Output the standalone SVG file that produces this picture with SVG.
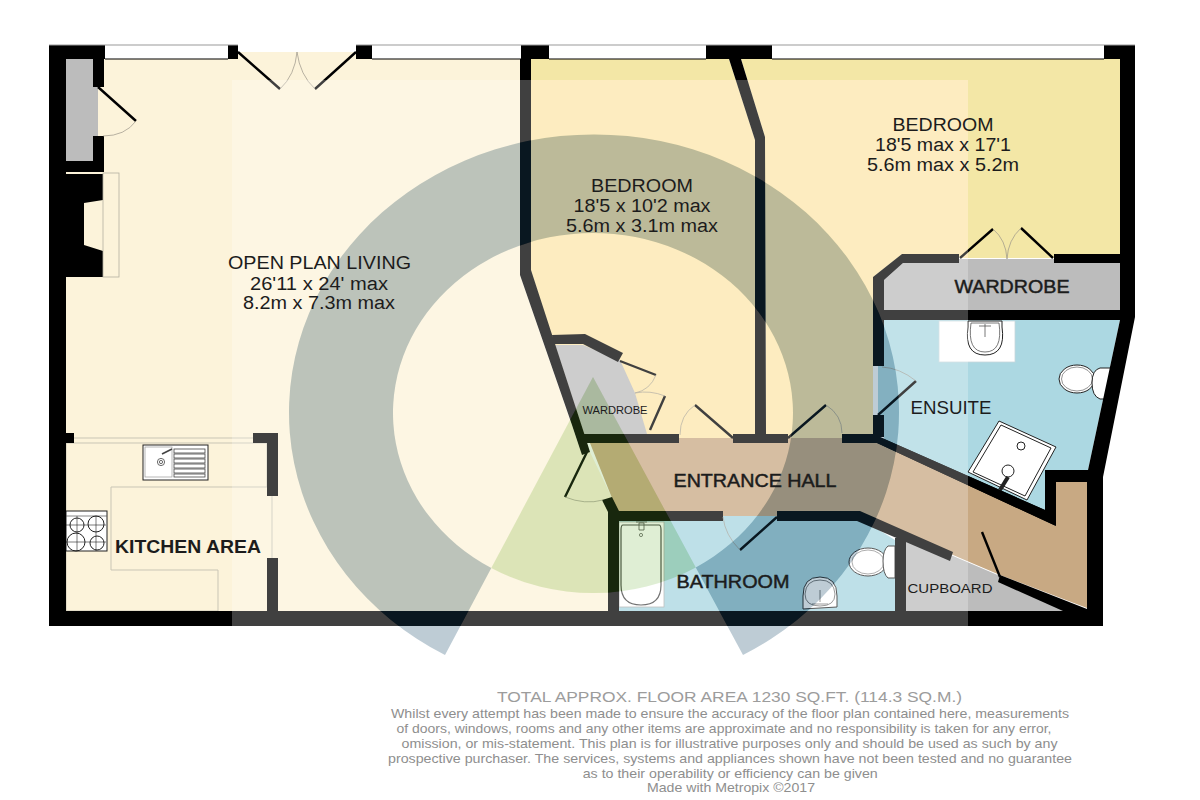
<svg xmlns="http://www.w3.org/2000/svg" width="1200" height="800" viewBox="0 0 1200 800">
<style>
text{font-family:"Liberation Sans",Arial,sans-serif;fill:#1c1c1c;text-anchor:middle;font-size:17.6px}
.w{fill:#000}
.leaf{stroke:#000;stroke-width:2.4;fill:none}
.arc{stroke:#9a9488;stroke-width:.7;fill:none}
.thin{stroke:#c9c5b5;stroke-width:1;fill:none}
.fx{stroke:#222;stroke-width:1;fill:#fff}
.b{stroke:#1c1c1c;stroke-width:.45}
text.foot{fill:#8e8e8e;font-size:13.4px;text-anchor:start}
</style>
<defs>
<clipPath id="sq"><rect x="232" y="80" width="736" height="547"/></clipPath>
</defs>
<rect width="1200" height="800" fill="#fff"/>
<g id="floors">
<polygon id="floor-living" fill="#fcf3da" points="66,59 238,59 238,52 356,52 356,59 520,59 520,275 578,443 590,452 612,498 617,511 608,511 608,611 66,611"/>
<polygon id="floor-bed1" fill="#f3e7a6" points="531,59 729,59 755,140 755,438 584,438 531,270"/>
<polygon id="floor-bed2" fill="#f3e7a6" points="741,59 1120,59 1120,258 960,258 959,254 902,254 873,277 873,438 766,438 765,137"/>
<g clip-path="url(#sq)" fill="#fce6ab">
<polygon points="531,59 729,59 755,140 755,438 584,438 531,270"/>
<polygon points="741,59 1120,59 1120,258 960,258 959,254 902,254 873,277 873,438 766,438 765,137"/>
</g>
<polygon id="floor-ensuite" fill="#acd8e2" points="884,320 1120,320 1088,470 1045,470 1045,512 884,443 884,415 878,415 878,366 884,366"/>
<polygon id="floor-bath" fill="#a9d6e0" points="619,516 857,516 895,540 895,611 619,611"/>
<polygon id="floor-hall" fill="#c8a983" points="590,443 600,438 877,438 1056,526 1056,482 1087,482 1087,608 1000,575 953,555 860,516 617,516 612,498"/>
<polygon id="floor-cupboard" fill="#bcbcbc" points="906,541 953,556 1000,576 1070,611 906,611"/>
<polygon id="floor-ward1" fill="#bcbcbc" points="555,345 583,345 620,360 635,393 647,434 584,434"/>
<polygon id="floor-ward2" fill="#bcbcbc" points="884,280 903,263 959,263 959,259 1054,259 1054,263 1120,263 1120,310 884,310"/>
<rect x="66" y="59" width="27" height="102" fill="#bcbcbc"/>
<rect x="93" y="87" width="5" height="49" fill="#bcbcbc"/>
</g>
<g id="kitchen">
<polygon fill="#fff" class="thin" points="66,443 267,443 267,487 111,487 111,570 218,570 218,611 66,611"/>
<line class="thin" x1="74" y1="438" x2="253" y2="438"/>
<line class="thin" x1="272" y1="496" x2="272" y2="558"/>
<rect class="fx" x="143" y="445" width="65" height="35" stroke-width="1.4"/>
<rect x="145" y="447" width="27" height="30" fill="none" stroke="#999" stroke-width=".7"/>
<g fill="none" stroke="#444" stroke-width=".8">
<rect x="174" y="449" width="31" height="4"/><rect x="174" y="454" width="31" height="4"/><rect x="174" y="459" width="31" height="4"/><rect x="174" y="464" width="31" height="4"/><rect x="174" y="469" width="31" height="4"/><rect x="174" y="474" width="31" height="3"/>
<circle cx="161" cy="462" r="3.6"/><circle cx="161" cy="462" r="1.6"/>
<path d="M162,454 L172,449" stroke-width="1.8"/>
</g>
<rect class="fx" x="66" y="511" width="41" height="40" stroke="#000" stroke-width="1.2"/>
<line x1="66" y1="516" x2="107" y2="516" stroke="#555" stroke-width=".7"/>
<g fill="none" stroke="#222" stroke-width="1">
<circle cx="77" cy="525" r="7"/><circle cx="96" cy="524" r="8"/><circle cx="76" cy="542" r="9"/><circle cx="97" cy="543" r="7"/>
<path d="M66,525H106M66,542H106M77,516V551M96,516V551" stroke-width=".6"/>
</g>
</g>
<g id="fixtures">
<rect x="939" y="321" width="76" height="41" fill="#fff" stroke="#c8d8dc" stroke-width=".8"/>
<path class="fx" d="M968,321 H1002 V327 Q1006,355 985,355 Q964,355 968,327Z"/>
<path fill="none" stroke="#555" stroke-width=".8" d="M971,323 H999 Q1003,352 985,352 Q967,352 971,323Z M985,324V337M979,326H991"/>
<ellipse class="fx" cx="1077" cy="379" rx="18" ry="14"/>
<ellipse fill="none" stroke="#666" stroke-width=".7" cx="1077" cy="379" rx="15.5" ry="12"/>
<path class="fx" d="M1112,368 H1100 Q1092,370 1092,383 Q1092,396 1100,399 H1112Z"/>
<polygon class="fx" stroke-width="1.4" points="999,421 1056,447 1027,500 968,472"/>
<polygon fill="none" stroke="#222" points="1001,425 1051,448 1025,496 973,472"/>
<circle class="fx" cx="1021" cy="446" r="4"/>
<circle class="fx" cx="1008" cy="471" r="6"/>
<path d="M1008,477 L1000,490" stroke="#222" stroke-width="4" fill="none"/>
<rect x="619" y="522" width="45" height="85" fill="#fff" stroke="#aaa" stroke-width=".8"/>
<path fill="none" stroke="#444" stroke-width="1.2" d="M623,525 H659 Q661,525 661,530 V585 Q661,605 641,605 Q621,605 621,585 V530 Q621,525 623,525Z"/>
<path fill="none" stroke="#444" stroke-width=".8" d="M639,523H644V530H639ZM636,522H647"/>
<circle cx="641" cy="535" r="1.6" fill="none" stroke="#444" stroke-width=".7"/>
<ellipse class="fx" cx="868" cy="562" rx="19" ry="14"/>
<ellipse fill="none" stroke="#666" stroke-width=".7" cx="868" cy="562" rx="16" ry="12"/>
<path class="fx" d="M895,546 H888 Q883,550 883,561 Q883,574 888,578 H895Z"/>
<path class="fx" d="M803,609 V596 Q803,577 820,577 Q837,577 837,596 V607 L803,609Z"/>
<path fill="none" stroke="#555" stroke-width=".8" d="M805,594 Q806,580 820,580 Q834,580 835,594 Q835,606 820,606 Q805,606 805,594Z M820,590V602M812,604H828"/>
</g>
<g id="walls" class="w">
<polygon points="49,45 105,45 105,59 66,59 66,611 278,611 278,626 49,626"/>
<rect x="228" y="45" width="10" height="14"/>
<rect x="356" y="45" width="16" height="14"/>
<rect x="521" y="45" width="28" height="14"/>
<rect x="706" y="45" width="66" height="14"/>
<polygon points="1104,45 1135,45 1135,317 1103,477 1103,626 266,626 266,611 1087,611 1087,482 1056,482 1056,526 877,443 873,443 873,434 1045,510 1045,470 1088,470 1120,320 1120,59 1104,59"/>
<polygon points="873,434 1045,510 1056,526 877,443"/>
<polygon points="520,59 531,59 531,270 584,433 590,452 582,455 572,425 520,275"/>
<polygon points="729,59 741,59 765,137 766,434 755,434 755,140"/>
<rect x="584" y="434" width="95" height="9"/>
<rect x="733" y="434" width="55" height="9"/>
<rect x="842" y="434" width="35" height="9"/>
<polygon points="552,335 585,334 623,353 618,362 583,344 553,344"/>
<polygon points="602,500 612,497 619,511 723,511 723,521 619,521 619,611 608,611 608,512"/>
<polygon points="777,511 860,511 953,552 950,561 857,521 777,521"/>
<rect x="895" y="538" width="11" height="73"/>
<polygon points="1000,575 1087,609 1087,611 1063,611 998,582"/>
<rect x="253" y="433" width="25" height="10"/>
<rect x="267" y="433" width="11" height="63"/>
<rect x="267" y="558" width="11" height="53"/>
<rect x="66" y="433" width="8" height="10"/>
<polygon points="873,366 884,366 884,280 903,263 959,263 959,254 902,254 873,277"/>
<rect x="1054" y="254" width="66" height="9"/>
<rect x="873" y="310" width="247" height="10"/>
<rect x="873" y="415" width="11" height="22"/>
<rect x="93" y="59" width="11" height="28"/>
<polygon points="93,136 104,136 104,172 65,172 65,161 93,161"/>
<polygon points="66,174 103,174 103,200 84,203 84,245 103,251 103,277 66,277"/>
</g>
<g id="windows">
<path fill="none" stroke="#000" stroke-width="1.2" d="M105,59H228M372,59H521M549,59H706M772,59H1104"/>
<path fill="none" stroke="#999" stroke-width="1" d="M49,45H238M356,45H1135"/>
<rect x="103" y="173" width="16" height="104" fill="none" stroke="#b5b0a0" stroke-width=".8"/>
</g>
<g id="connectors">
<path class="leaf" d="M238,52L280,89M356,52L315,89M98,87L136,121M620,361L656,375M650,430L665,396M733,438L695,405M788,438L826,405M960,258L993,229M1053,258L1021,228M878,415L916,381M587,452L565,497M777,517L740,550M982,532L1000,577"/>
<path class="arc" d="M280,89Q295,75 297,52M315,89Q300,75 297,52M136,121Q125,136 103,136M656,375Q650,390 635,393M665,396Q650,390 635,393M695,405Q680,415 680,435M826,405Q842,415 842,433M993,229Q1006,240 1007,259M1021,228Q1008,240 1007,259M916,381Q900,368 882,367M565,497Q585,505 603,500M740,550Q725,535 723,517"/>
</g>
<path id="veil" fill="#fff" fill-opacity=".25" fill-rule="evenodd" d="M232,80H968V627H232Z M445,655 A305 278 0 1 1 743,655 L695.8,567.4 L593,377 L491.3,568Z M491.3,568 A200 180 0 0 0 695.8,567.4 L593,377Z M695.8,567.4 A200 180 0 1 0 491.3,568 L593,377Z"/>
<g id="watermark">
<path fill="#1f4f6e" fill-opacity=".29" d="M445,655 A305 278 0 1 1 743,655 L695.8,567.4 A200 180 0 1 0 491.3,568Z"/>
<path fill="#6db33b" fill-opacity=".22" d="M593,377 L695.8,567.4 A200 180 0 0 1 491.3,568Z"/>
</g>
<g id="labels">
<text x="319.5" y="269" textLength="183" lengthAdjust="spacingAndGlyphs">OPEN PLAN LIVING</text>
<text x="319" y="290" textLength="138" lengthAdjust="spacingAndGlyphs">26'11 x 24' max</text>
<text x="319" y="309" textLength="152" lengthAdjust="spacingAndGlyphs">8.2m x 7.3m max</text>
<text x="642" y="192" textLength="102" lengthAdjust="spacingAndGlyphs">BEDROOM</text>
<text x="642" y="212" textLength="137" lengthAdjust="spacingAndGlyphs">18'5 x 10'2 max</text>
<text x="642" y="232" textLength="152" lengthAdjust="spacingAndGlyphs">5.6m x 3.1m max</text>
<text x="943" y="131" textLength="101" lengthAdjust="spacingAndGlyphs">BEDROOM</text>
<text x="943" y="151" textLength="136" lengthAdjust="spacingAndGlyphs">18'5 max x 17'1</text>
<text x="943" y="171" textLength="152" lengthAdjust="spacingAndGlyphs">5.6m max x 5.2m</text>
<text x="615" y="414" style="font-size:11.5px" textLength="65" lengthAdjust="spacingAndGlyphs">WARDROBE</text>
<text class="b" x="1012" y="293" textLength="115" lengthAdjust="spacingAndGlyphs">WARDROBE</text>
<text x="951" y="414" textLength="81" lengthAdjust="spacingAndGlyphs">ENSUITE</text>
<text class="b" x="755" y="487" textLength="163" lengthAdjust="spacingAndGlyphs">ENTRANCE HALL</text>
<text class="b" x="733" y="588" textLength="113" lengthAdjust="spacingAndGlyphs">BATHROOM</text>
<text x="950" y="593" style="font-size:13.2px" textLength="85" lengthAdjust="spacingAndGlyphs">CUPBOARD</text>
<text x="188" y="553" style="font-weight:bold" textLength="146" lengthAdjust="spacingAndGlyphs">KITCHEN AREA</text>
</g>
<g id="footer">
<text class="foot" x="497" y="701.5" style="font-size:15.5px;fill:#9c9c9c" textLength="465" lengthAdjust="spacingAndGlyphs">TOTAL APPROX. FLOOR AREA 1230 SQ.FT. (114.3 SQ.M.)</text>
<text class="foot" x="391" y="718" textLength="678" lengthAdjust="spacingAndGlyphs">Whilst every attempt has been made to ensure the accuracy of the floor plan contained here, measurements</text>
<text class="foot" x="396.5" y="733" textLength="655" lengthAdjust="spacingAndGlyphs">of doors, windows, rooms and any other items are approximate and no responsibility is taken for any error,</text>
<text class="foot" x="401.5" y="747.7" textLength="656" lengthAdjust="spacingAndGlyphs">omission, or mis-statement. This plan is for illustrative purposes only and should be used as such by any</text>
<text class="foot" x="388" y="762.7" textLength="684" lengthAdjust="spacingAndGlyphs">prospective purchaser. The services, systems and appliances shown have not been tested and no guarantee</text>
<text class="foot" x="582.7" y="777.7" textLength="295" lengthAdjust="spacingAndGlyphs">as to their operability or efficiency can be given</text>
<text class="foot" x="647" y="791.7" textLength="168" lengthAdjust="spacingAndGlyphs">Made with Metropix ©2017</text>
</g>
</svg>
